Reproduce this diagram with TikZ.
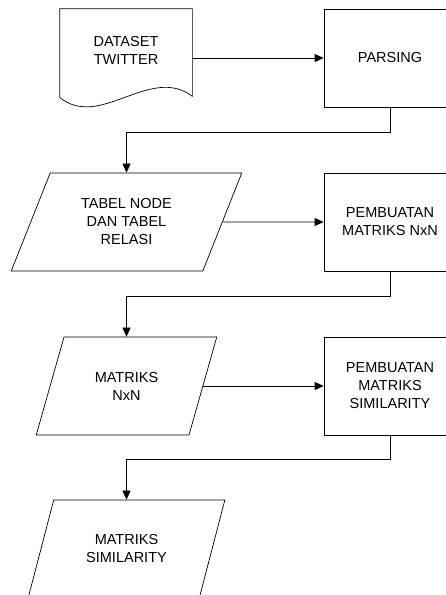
\documentclass[tikz,border=0pt]{standalone}
\usepackage{fontspec}
\setmainfont{Liberation Sans}
\usetikzlibrary{shapes.geometric,arrows.meta}

\begin{document}
\begin{tikzpicture}[x=1pt,y=-1pt,line width=.7pt]
\tikzstyle{every node}=[inner sep=0pt, font=\fontsize{14.5}{18}\selectfont, align=center]
\tikzstyle{proses}=[draw, minimum width=132pt, minimum height=98pt]
\tikzstyle{dataio}=[draw, trapezium, trapezium left angle=63.4, trapezium right angle=116.6, trapezium stretches=true, minimum height=98pt]
\tikzstyle{panah}=[-{Triangle[length=9pt,width=8pt]}]
\clip (0,0) rectangle (446,595);
% dokumen
\node (dataset) [minimum width=132pt, minimum height=98pt] at (126,58) {};
\node (datasettxt) at (126,50) {DATASET\\TWITTER};
\draw ([yshift=10pt]dataset.south west) -- (dataset.north west) -- (dataset.north east)
  -- ([yshift=11pt]dataset.south east) .. controls +(-42,-32) and +(40,33) .. ([yshift=10pt]dataset.south west);
\node (parsing) [proses] at (390,58) {PARSING};
\node (tabel) [dataio, minimum width=231pt] at (126.5,222) {TABEL NODE\\DAN TABEL\\RELASI};
\node (buatnxn) [proses] at (390,222) {PEMBUATAN\\MATRIKS NxN};
\node (nxn) [dataio, minimum width=181pt] at (126.5,386) {MATRIKS\\NxN};
\node (buatsim) [proses] at (390,386) {PEMBUATAN\\MATRIKS\\SIMILARITY};
\node (sim) [dataio, minimum width=197pt] at (126.5,549) {MATRIKS\\SIMILARITY};
% panah
\draw [panah] (dataset) -- (parsing);
\draw [panah] (parsing.south) -- ++(0,25) -| (tabel);
\draw [panah] (tabel) -- (buatnxn);
\draw [panah] (buatnxn.south) -- ++(0,25) -| (nxn);
\draw [panah] (nxn) -- (buatsim);
\draw [panah] (buatsim.south) -- ++(0,24) -| (sim);
\end{tikzpicture}
\end{document}
